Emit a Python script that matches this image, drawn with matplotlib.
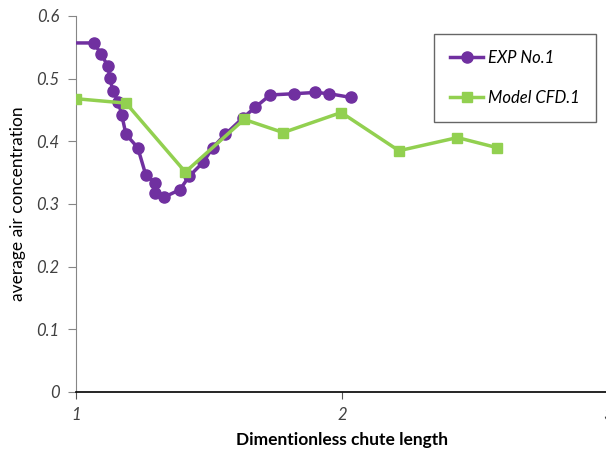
import matplotlib.pyplot as plt

plt.rcParams['font.family'] = ['Lato', 'DejaVu Sans']

# EXP No.1 (first point lies left of x=1 and is clipped)
exp_x = [0.97, 1.068, 1.093, 1.119, 1.128, 1.138, 1.159, 1.172, 1.188, 1.232,
         1.262, 1.296, 1.298, 1.332, 1.391, 1.425, 1.479, 1.514, 1.561,
         1.629, 1.673, 1.730, 1.820, 1.900, 1.952, 2.034]
exp_y = [0.557, 0.557, 0.540, 0.521, 0.501, 0.481, 0.463, 0.442, 0.411, 0.390,
         0.347, 0.334, 0.318, 0.311, 0.323, 0.344, 0.367, 0.390, 0.411,
         0.438, 0.454, 0.474, 0.476, 0.478, 0.476, 0.470]

# Model CFD.1
cfd_x = [1.0, 1.188, 1.411, 1.632, 1.779, 1.997, 2.214, 2.434, 2.582]
cfd_y = [0.468, 0.461, 0.351, 0.435, 0.414, 0.446, 0.385, 0.406, 0.390]

yticks = [0, 0.1, 0.2, 0.3, 0.4, 0.5, 0.6]
xticks = [1, 2, 3]

fig = plt.figure(figsize=(6.06, 4.5), dpi=100)
ax = fig.add_axes([76 / 606, 1 - 392 / 450, 532 / 606, 376 / 450])

ax.plot(exp_x, exp_y, color='#7030A0', lw=2.5, marker='o', ms=8,
        label='EXP No.1', zorder=3)
ax.plot(cfd_x, cfd_y, color='#92D050', lw=2.5, marker='s', ms=7,
        label='Model CFD.1', zorder=4)

ax.set_xlim(1, 3)
ax.set_ylim(0, 0.6)
ax.set_xticks(xticks)
ax.set_yticks(yticks)
ax.set_xticklabels([str(t) for t in xticks])
ax.set_yticklabels(['0'] + [f'{t:.1f}' for t in yticks[1:]])

for s in ['top', 'right']:
    ax.spines[s].set_visible(False)
ax.spines['left'].set_color('#868686')
ax.spines['bottom'].set_color('black')
ax.spines['bottom'].set_linewidth(1.2)
ax.tick_params(axis='y', direction='out', length=6, color='#868686', pad=6)
ax.tick_params(axis='x', direction='out', length=5, color='#555555', pad=6)
for lab in ax.get_xticklabels() + ax.get_yticklabels():
    lab.set_fontstyle('italic')
    lab.set_fontsize(12)
    lab.set_color('#404040')

ax.set_xlabel('Dimentionless chute length', fontsize=12.5, fontweight='bold',
              labelpad=6)
ax.set_ylabel('average air concentration', fontsize=12.5, labelpad=7)

# legend box: left 434 px, top 34 px in the figure
ax.legend(loc='upper left',
          bbox_to_anchor=((434 - 76) / 532, (392 - 34) / 376),
          bbox_transform=ax.transAxes, borderaxespad=0, fancybox=False,
          frameon=True, edgecolor='#404040', handlelength=2.0,
          labelspacing=1.45, borderpad=0.95, handletextpad=0.3,
          prop={'style': 'italic', 'size': 12})
ax.legend_.get_frame().set_linewidth(1.0)

fig.savefig('out.png', dpi=100)
